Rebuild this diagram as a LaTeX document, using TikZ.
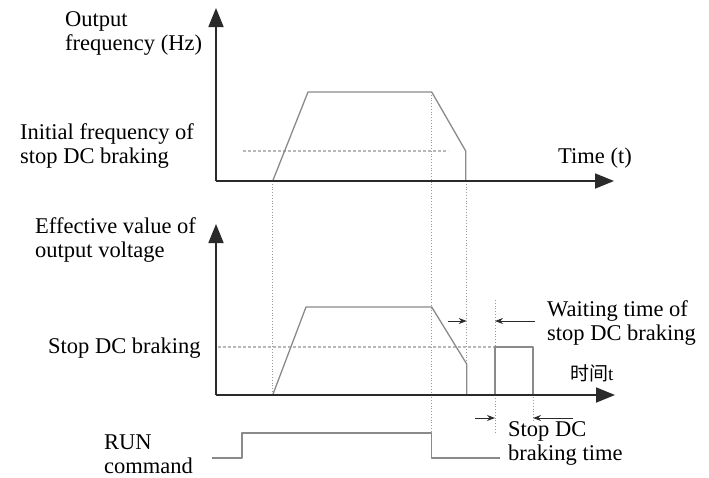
\documentclass[tikz,border=0pt]{standalone}
\usepackage{fontspec}
\setmainfont{Liberation Serif}
\newfontfamily\cjk{Noto Sans CJK SC}
\usetikzlibrary{arrows.meta}
\definecolor{axisc}{HTML}{2A2A2A}
\definecolor{curvec}{HTML}{8A8A8A}
\definecolor{dotc}{HTML}{9A9A9A}
\begin{document}
\begin{tikzpicture}[x=1pt,y=-1pt,
  axis/.style={draw=axisc,line width=1.8pt,-{Triangle[length=19pt,width=15pt]}},
  curve/.style={draw=curvec,line width=1.3pt,line join=round},
  guide/.style={draw=dotc,line width=0.8pt,dotted},
  level/.style={draw=dotc!70,line width=1.1pt,densely dashed},
  marker/.style={draw=axisc,line width=1pt,-{Stealth[length=8pt,width=6pt]}},
  lab/.style={font=\fontsize{22.5}{23.5}\selectfont,align=left,inner sep=0pt}]
\useasboundingbox (0,0) rectangle (709,477);
% ---------- top graph ----------
\coordinate (o1) at (216,181);
\coordinate (y1) at (216,8);
\coordinate (x1) at (614,181);
\coordinate (f0) at (272.7,181);
\coordinate (f1) at (308,92);
\coordinate (f2) at (431.7,92);
\coordinate (f3) at (465.7,151);
\coordinate (f4) at (465.7,181);
\coordinate (l1a) at (243,151);
\coordinate (l1b) at (448,151);
% ---------- middle graph ----------
\coordinate (o2) at (216,395);
\coordinate (y2) at (216,224);
\coordinate (x2) at (615,395);
\coordinate (v0) at (272.7,395);
\coordinate (v1) at (306,307);
\coordinate (v2) at (431.7,307);
\coordinate (v3) at (466.7,364);
\coordinate (v4) at (466.7,395);
\coordinate (p0) at (495,395);
\coordinate (p1) at (495,347);
\coordinate (p2) at (533,347);
\coordinate (p3) at (533,395);
\coordinate (l2a) at (218,347);
\coordinate (l2b) at (495,347);
% ---------- RUN ----------
\coordinate (r0) at (212,458);
\coordinate (r1) at (242,458);
\coordinate (r2) at (242,433);
\coordinate (r3) at (431.7,433);
\coordinate (r4) at (431.7,458);
\coordinate (r5) at (500,458);
% guides
\coordinate (g1t) at (272.7,181); \coordinate (g1b) at (272.7,395);
\coordinate (g2t) at (431.7,92);  \coordinate (g2b) at (431.7,458);
\coordinate (g3t) at (466.7,181); \coordinate (g3b) at (466.7,395);
\coordinate (g4t) at (495,300);   \coordinate (g4b) at (495,433);
\coordinate (g5t) at (533,347);   \coordinate (g5b) at (533,422);
\draw[guide] (g1t) -- (g1b);
\draw[guide] (g2t) -- (g2b);
\draw[guide] (g3t) -- (g3b);
\draw[guide] (g4t) -- (g4b);
\draw[guide] (g5t) -- (g5b);
\draw[level] (l1a) -- (l1b);
\draw[level] (l2a) -- (l2b);
% curves
\draw[curve] (f0) -- (f1) -- (f2) -- (f3) -- (f4);
\draw[curve] (v0) -- (v1) -- (v2) -- (v3) -- (v4);
\draw[curve] (p0) -- (p1) -- (p2) -- (p3);
\draw[curve] (r0) -- (r1) -- (r2) -- (r3) -- (r4) -- (r5);
% axes
\draw[axis] (o1) -- (y1);
\draw[axis] (o1) -- (x1);
\draw[axis] (o2) -- (y2);
\draw[axis] (o2) -- (x2);
% markers
\coordinate (w1a) at (447.7,321); \coordinate (w1b) at (466.7,321);
\coordinate (w2a) at (535,321);   \coordinate (w2b) at (495,321);
\coordinate (s1a) at (475,418);   \coordinate (s1b) at (495,418);
\coordinate (s2a) at (573,418);   \coordinate (s2b) at (533,418);
\draw[marker] (w1a) -- (w1b);
\draw[marker] (w2a) -- (w2b);
\draw[marker] (s1a) -- (s1b);
\draw[marker] (s2a) -- (s2b);
% labels (anchor = baseline of last line)
\node[lab,anchor=base west] (tout) at (65,50) {Output\\frequency (Hz)};
\node[lab,anchor=base west] (tinit) at (20,163) {Initial frequency of\\stop DC braking};
\node[lab,anchor=base west] (ttime) at (558,163) {Time (t)};
\node[lab,anchor=base west] (teff) at (35,257) {Effective value of\\output voltage};
\node[lab,anchor=base west] (tstop) at (48,353) {Stop DC braking};
\node[lab,anchor=base west] (twait) at (547,340) {Waiting time of\\stop DC braking};
\node[inner sep=0pt,anchor=base west,font=\fontsize{19}{21}\selectfont] (tcn) at (570,380) {{\cjk 时间}t};
\node[lab,anchor=base west] (tsdc) at (508,460) {Stop DC\\braking time};
\node[lab,anchor=base west] (trun) at (104,473) {RUN\\command};
\end{tikzpicture}
\end{document}
